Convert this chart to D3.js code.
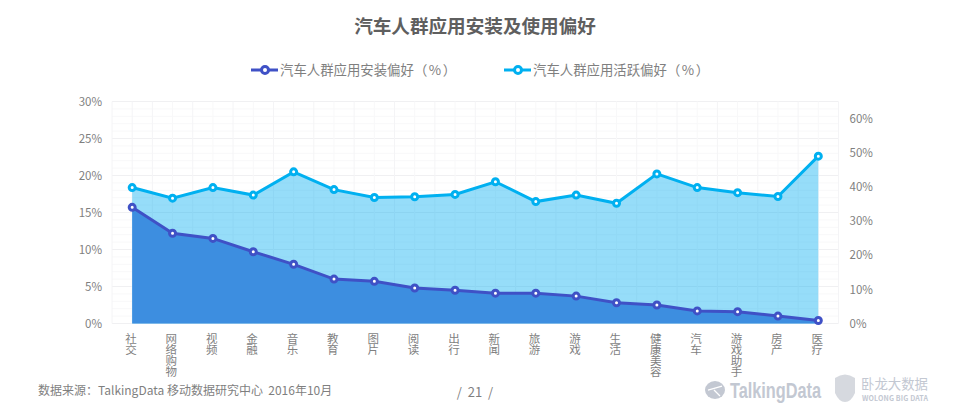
<!DOCTYPE html>
<html>
<head>
<meta charset="utf-8">
<script src="https://cdn.jsdelivr.net/npm/d3@7"></script>
<style>
  html, body { margin: 0; padding: 0; background: #fff; }
  svg { display: block; }
  text { font-family: "Noto Sans CJK SC", "Noto Sans", sans-serif; fill: #7f7f7f; }
  .axis path, .axis line { display: none; }
</style>
</head>
<body>
<svg id="chart" width="954" height="417"></svg>
<script>
var categories = ['社交', '网络购物', '视频', '金融', '音乐', '教育', '图片', '阅读', '出行', '新闻', '旅游', '游戏', '生活', '健康美容', '汽车', '游戏助手', '房产', '医疗'];
var installValues = [15.7, 12.2, 11.5, 9.7, 8.0, 6.0, 5.7, 4.8, 4.5, 4.1, 4.1, 3.7, 2.8, 2.5, 1.7, 1.6, 1.0, 0.4];
var activeValues = [39.8, 36.7, 39.8, 37.6, 44.4, 39.2, 36.9, 37.1, 37.8, 41.5, 35.7, 37.6, 35.2, 43.8, 39.8, 38.3, 37.2, 49.0];
var leftTicks = [0, 5, 10, 15, 20, 25, 30];
var rightTicks = [0, 10, 20, 30, 40, 50, 60];
var installName = '汽车人群应用安装偏好（ % ）';
var activeName = '汽车人群应用活跃偏好（ % ）';

var svg = d3.select('#chart');
var plot = { left: 112, right: 838.5, top: 101.5, bottom: 323.5 };
var installColor = '#3f51c6', activeColor = '#00b0f0';

var x = d3.scaleBand().domain(categories).range([plot.left, plot.right]);
var yLeft = d3.scaleLinear().domain([0, 30]).range([plot.bottom, plot.top]);
var yRight = d3.scaleLinear().domain([0, 65]).range([plot.bottom, plot.top]);
function cx(i) { return x(categories[i]) + x.bandwidth() / 2; }

// title
svg.append('text').attr('x', 475).attr('y', 33).attr('text-anchor', 'middle')
  .style('font-size', '18.6px').style('font-weight', 700).style('fill', '#5f5f5f')
  .text('汽车人群应用安装及使用偏好');

// legend
function legendItem(x0, name, color) {
  var g = svg.append('g');
  g.append('line').attr('x1', x0).attr('x2', x0 + 27).attr('y1', 70).attr('y2', 70)
    .attr('stroke', color).attr('stroke-width', 3);
  g.append('circle').attr('cx', x0 + 14).attr('cy', 70).attr('r', 3.5)
    .attr('fill', '#fff').attr('stroke', color).attr('stroke-width', 3);
  g.append('text').attr('x', x0 + 29).attr('y', 75)
    .style('font-size', '13.4px').style('word-spacing', '-1.5px').text(name);
}
legendItem(251, installName, installColor);
legendItem(504, activeName, activeColor);

// grid, fine lines every 1% and half category
var grid = svg.append('g');
d3.range(0, 31).forEach(function (v) {
  grid.append('line').attr('x1', plot.left).attr('x2', plot.right)
    .attr('y1', yLeft(v)).attr('y2', yLeft(v))
    .attr('stroke', v % 5 === 0 ? '#f0f0f2' : '#f8f8f9').attr('stroke-width', 1);
});
d3.range(0, categories.length * 2 + 1).forEach(function (k) {
  var px = plot.left + k * x.bandwidth() / 2;
  grid.append('line').attr('x1', px).attr('x2', px)
    .attr('y1', plot.top).attr('y2', plot.bottom)
    .attr('stroke', k % 2 === 0 || k === 1 ? '#f4f4f6' : '#f8f8f9').attr('stroke-width', 1);
});

// areas
var activeArea = d3.area().x(function (d, i) { return cx(i); })
  .y0(plot.bottom).y1(function (d) { return yRight(d); });
var installArea = d3.area().x(function (d, i) { return cx(i); })
  .y0(plot.bottom).y1(function (d) { return yLeft(d); });
svg.append('path').datum(activeValues).attr('d', activeArea).attr('fill', '#00acf0').attr('fill-opacity', 0.41);
svg.append('path').datum(installValues).attr('d', installArea).attr('fill', '#3d8ee0');

// lines and markers
function series(values, yScale, color) {
  var line = d3.line().x(function (d, i) { return cx(i); }).y(function (d) { return yScale(d); });
  svg.append('path').datum(values).attr('d', line).attr('fill', 'none')
    .attr('stroke', color).attr('stroke-width', 3);
  svg.append('g').selectAll('circle').data(values).enter().append('circle')
    .attr('cx', function (d, i) { return cx(i); })
    .attr('cy', function (d) { return yScale(d); })
    .attr('r', 3).attr('fill', '#fff').attr('stroke', color).attr('stroke-width', 3);
}
series(activeValues, yRight, activeColor);
series(installValues, yLeft, installColor);

// axes
var fmt = function (d) { return d + '%'; };
svg.append('g').attr('class', 'axis').attr('transform', 'translate(' + plot.left + ',0)')
  .call(d3.axisLeft(yLeft).tickValues(leftTicks).tickFormat(fmt).tickSize(0).tickPadding(10))
  .selectAll('text').style('font-size', '11.5px').attr('fill', null);
svg.append('g').attr('class', 'axis').attr('transform', 'translate(' + plot.right + ',0)')
  .call(d3.axisRight(yRight).tickValues(rightTicks).tickFormat(fmt).tickSize(0).tickPadding(11))
  .selectAll('text').style('font-size', '11.5px').attr('fill', null);

// category labels, written top to bottom
svg.append('g').attr('class', 'axis').attr('transform', 'translate(0,' + plot.bottom + ')')
  .call(d3.axisBottom(x).tickSize(0).tickPadding(0))
  .selectAll('text')
  .attr('x', -1.2).attr('y', 9.5).attr('dy', null)
  .style('text-anchor', 'start').style('writing-mode', 'vertical-rl').style('text-orientation', 'upright')
  .style('font-size', '11.5px').style('letter-spacing', '-0.7px').attr('fill', null);

// footer
svg.append('text').attr('x', 38).attr('y', 395).style('font-size', '12px')
  .attr('xml:space', 'preserve').text('数据来源：TalkingData 移动数据研究中心  2016年10月');
svg.append('text').attr('x', 475).attr('y', 397).attr('text-anchor', 'middle')
  .style('font-size', '13px').attr('xml:space', 'preserve').text('/  21  /');

// logos
var logo = svg.append('g');
logo.append('ellipse').attr('cx', 715).attr('cy', 390).attr('rx', 10).attr('ry', 9).attr('fill', '#c3c8d2');
logo.append('path').attr('d', 'M708,390L722,386M714,390L720,396').attr('stroke', '#fff').attr('stroke-width', 1.3);
logo.append('text').attr('x', 730).attr('y', 398).attr('textLength', 91).attr('lengthAdjust', 'spacingAndGlyphs')
  .style('font-family', '"Liberation Sans Narrow", sans-serif')
  .style('font-size', '22px').style('font-weight', 700).style('fill', '#c3c8d2').text('TalkingData');
logo.append('path').attr('d', 'M835,378Q845,371 855,378L855,393Q851,402 845,402Q839,402 835,393Z').attr('fill', '#d6d9df');
logo.append('text').attr('x', 861).attr('y', 389).attr('textLength', 67).style('font-size', '13.4px').style('fill', '#c3c8d2').text('卧龙大数据');
logo.append('text').attr('x', 862).attr('y', 401).attr('textLength', 66).style('font-size', '7px').style('font-weight', 700).style('fill', '#c3c8d2').text('WOLONG BIG DATA');
</script>
</body>
</html>
